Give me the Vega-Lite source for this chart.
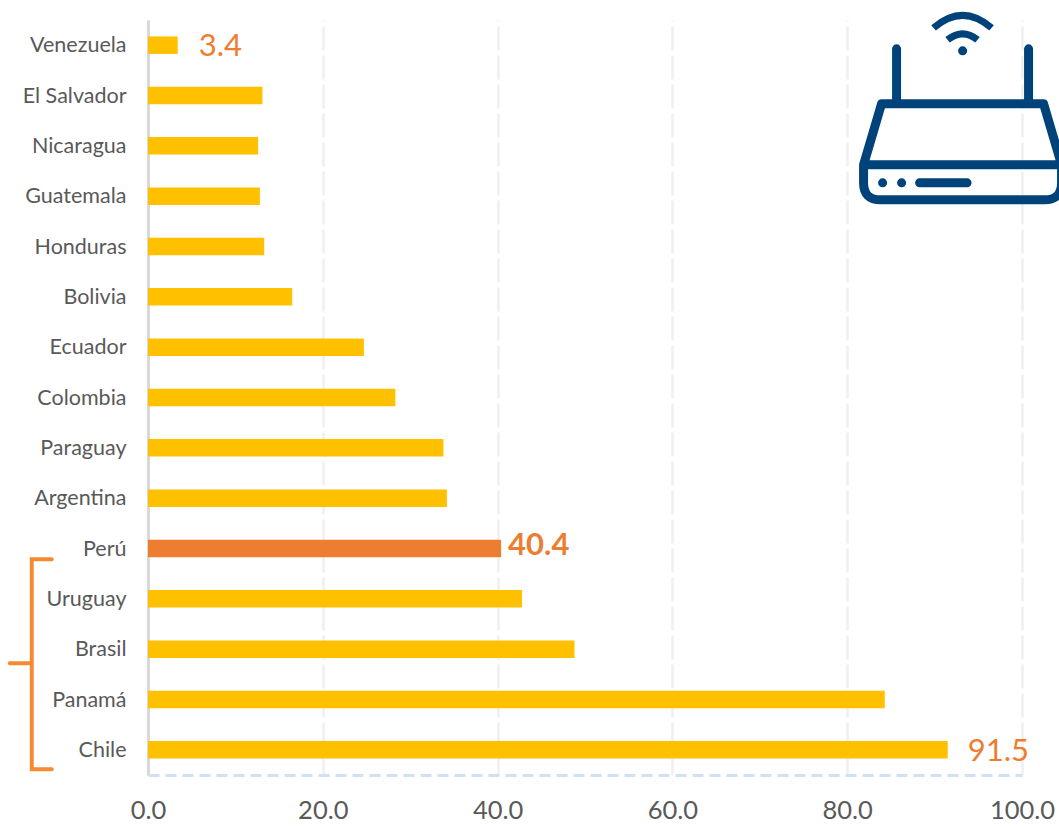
{
"$schema":"https://vega.github.io/schema/vega-lite/v6.json",
"width":874,"height":755,
"autosize":"none",
"padding":{"left":148,"top":20,"right":37,"bottom":51},
"background":"white",
"config":{"view":{"stroke":null}},
"datasets":{
"paises":[
{"pais":"Venezuela","valor":3.4,"grupo":"otros"},
{"pais":"El Salvador","valor":13.1,"grupo":"otros"},
{"pais":"Nicaragua","valor":12.6,"grupo":"otros"},
{"pais":"Guatemala","valor":12.8,"grupo":"otros"},
{"pais":"Honduras","valor":13.3,"grupo":"otros"},
{"pais":"Bolivia","valor":16.5,"grupo":"otros"},
{"pais":"Ecuador","valor":24.7,"grupo":"otros"},
{"pais":"Colombia","valor":28.3,"grupo":"otros"},
{"pais":"Paraguay","valor":33.8,"grupo":"otros"},
{"pais":"Argentina","valor":34.2,"grupo":"otros"},
{"pais":"Perú","valor":40.4,"grupo":"peru"},
{"pais":"Uruguay","valor":42.8,"grupo":"otros"},
{"pais":"Brasil","valor":48.8,"grupo":"otros"},
{"pais":"Panamá","valor":84.3,"grupo":"otros"},
{"pais":"Chile","valor":91.5,"grupo":"otros"}
],
"icono":[{"x":93.2,"pais":"Nicaragua"}],
"llave":[{"x":-13.3,"pais":"Brasil"}]
},
"data":{"name":"paises"},
"layer":[
{"mark":{"type":"bar","height":17.5},
"encoding":{
"y":{"field":"pais","type":"nominal","sort":null,"title":null,
"scale":{"paddingInner":0.65,"paddingOuter":0.325},
"axis":{"ticks":false,"labelPadding":22,"labelOffset":1,"labelFont":"Lato","labelFontSize":21.5,"labelColor":"#595959","domainColor":"#D9D9D9","domainWidth":3,"grid":false}},
"x":{"field":"valor","type":"quantitative","title":null,
"scale":{"domain":[0,100],"nice":false},
"axis":{"values":[0,20,40,60,80,100],"format":".1f","ticks":false,"labelPadding":23,"labelFont":"Lato","labelFontSize":25.5,"labelColor":"#595959","labelFlush":false,"labelOverlap":false,"domainColor":"#CFE2F3","domainWidth":3,"domainDash":[11,6],"grid":true,"gridColor":"#F0F0F0","gridWidth":2.5,"gridDash":[24,5]}},
"color":{"field":"grupo","type":"nominal","legend":null,"scale":{"domain":["otros","peru"],"range":["#FFC000","#ED7D31"]}}
}},
{"transform":[{"filter":"datum.pais==='Venezuela'"}],
"mark":{"type":"text","align":"left","baseline":"middle","dx":21,"dy":2,"font":"Lato","fontSize":31,"color":"#ED7D31"},
"encoding":{"x":{"field":"valor","type":"quantitative"},"y":{"field":"pais","type":"nominal","sort":null},"text":{"field":"valor","type":"quantitative","format":".1f"}}},
{"transform":[{"filter":"datum.pais==='Chile'"}],
"mark":{"type":"text","align":"left","baseline":"middle","dx":20,"dy":2,"font":"Lato","fontSize":31,"color":"#ED7D31"},
"encoding":{"x":{"field":"valor","type":"quantitative"},"y":{"field":"pais","type":"nominal","sort":null},"text":{"field":"valor","type":"quantitative","format":".1f"}}},
{"transform":[{"filter":"datum.pais==='Perú'"}],
"mark":{"type":"text","align":"left","baseline":"middle","dx":7,"dy":-3,"font":"Lato","fontWeight":"bold","fontSize":31,"color":"#ED7D31"},
"encoding":{"x":{"field":"valor","type":"quantitative"},"y":{"field":"pais","type":"nominal","sort":null},"text":{"field":"valor","type":"quantitative","format":".1f"}}},
{"data":{"name":"llave"},
"mark":{"type":"point","filled":false,"size":4,"stroke":"#F58A32","strokeWidth":4,"strokeCap":"round","strokeJoin":"miter","opacity":1,
"shape":"M20 -90 L0 -90 L0 120 L20 120 M0 14 L-22 14"},
"encoding":{"x":{"field":"x","type":"quantitative"},"y":{"field":"pais","type":"nominal","sort":null}}},
{"data":{"name":"icono"},
"mark":{"type":"point","filled":false,"size":4,"stroke":"#00437B","strokeWidth":9,"strokeCap":"round","strokeJoin":"round","opacity":1,
"shape":"M-66 -97 L-66 -42 M66 -97 L66 -42 M-99 19 L-81 -42 L81 -42 L99 19 M-99 19 L99 19 M-99 19 L-99 37 Q-99 54 -82 54 L82 54 Q99 54 99 37 L99 19 M-80 37 L-79.9 37 M-61 37 L-60.9 37 M-43 37 L4.5 37 M0 -95 L0.1 -95"},
"encoding":{"x":{"field":"x","type":"quantitative"},"y":{"field":"pais","type":"nominal","sort":null}}},
{"data":{"name":"icono"},
"mark":{"type":"point","filled":false,"size":4,"stroke":"#00437B","strokeWidth":7,"strokeCap":"butt","opacity":1,
"shape":"M-15 -106 Q0 -118 15 -106 M-29 -118 Q0 -143 29 -118"},
"encoding":{"x":{"field":"x","type":"quantitative"},"y":{"field":"pais","type":"nominal","sort":null}}}
]
}
